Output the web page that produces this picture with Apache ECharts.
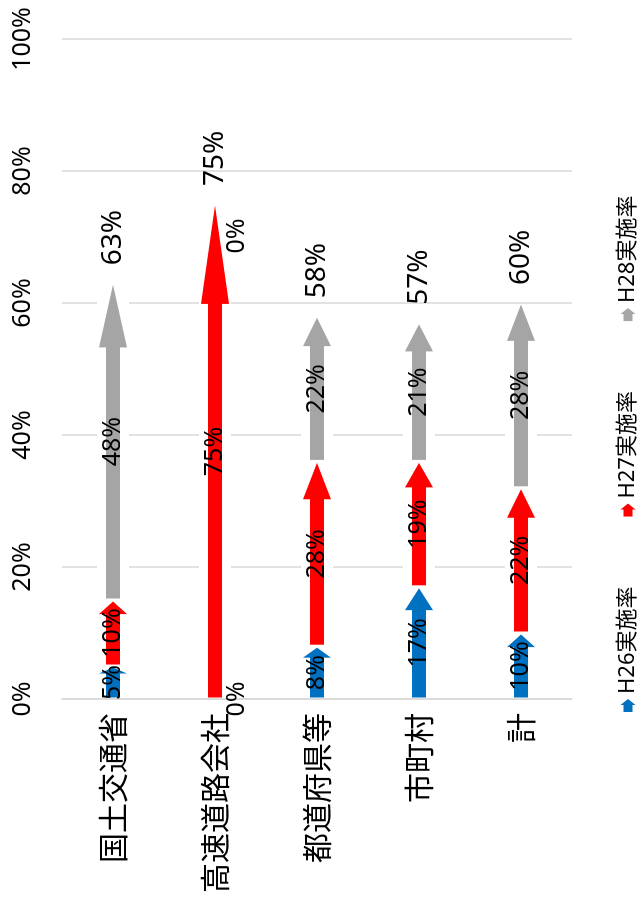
<!DOCTYPE html>
<html>
<head>
<meta charset="utf-8">
<script src="https://cdn.jsdelivr.net/npm/echarts@6/dist/echarts.min.js"></script>
<style>
  html, body { margin: 0; padding: 0; background: #fff; overflow: hidden; width: 643px; height: 901px; }
  /* The chart is laid out as horizontal bars and the box is turned a quarter-turn
     counter-clockwise, so every text runs upward and the bars point up. */
  #chart {
    position: absolute; left: 0; top: 0;
    width: 901px; height: 643px;
    transform-origin: 0 0;
    transform: translateY(901px) rotate(-90deg);
  }
</style>
</head>
<body>
<div id="chart"></div>
<script>
// Implementation rate by organisation (%), one array per fiscal year
const categories = ['国土交通省', '高速道路会社', '都道府県等', '市町村', '計'];
const h26 = [5, 0, 8, 17, 10];
const h27 = [10, 75, 28, 19, 22];
const h28 = [48, 0, 22, 21, 28];
const totals = [63, 75, 58, 57, 60];
const seriesNames = ['H26実施率', 'H27実施率', 'H28実施率'];
const valueTicks = [0, 20, 40, 60, 80, 100];

const colors = ['#0070C0', '#FF0000', '#A5A5A5'];
const FONT = '"Noto Sans", "Noto Sans CJK JP", sans-serif';
const CJK_FONT = '"Noto Sans CJK JP", "Noto Sans", sans-serif';

// Build [category, start, end, value] rows so each year's arrow sits on top of the previous ones
const years = [h26, h27, h28];
const stacked = years.map(() => []);
categories.forEach((c, i) => {
  let base = 0;
  years.forEach((arr, k) => {
    stacked[k].push([i, base, base + arr[i], arr[i]]);
    base += arr[i];
  });
});

// Draws one arrow segment (white backing, arrow body, value label)
function arrowRenderer(color) {
  return function (params, api) {
    const cat = api.value(0);
    const s = api.value(1), e = api.value(2), v = api.value(3);
    const p0 = api.coord([s, cat]);
    const p1 = api.coord([e, cat]);
    const cy = p0[1];
    const children = [];
    const labelStyle = { text: v + '%', fill: '#000', fontSize: 25, fontFamily: FONT,
                         align: 'center', verticalAlign: 'middle' };
    if (v > 0) {
      const x0 = p0[0] + 1.5;
      const x1 = Math.max(p1[0] - 1.5, x0 + 1);
      const len = x1 - x0;
      const head = len * 0.2;
      const shaft = 7, wing = 14;
      children.push({
        type: 'rect', z2: 0,
        shape: { x: x0, y: cy - 16, width: len, height: 32 },
        style: { fill: '#ffffff' }
      });
      children.push({
        type: 'polygon', z2: 1,
        shape: { points: [
          [x0, cy - shaft], [x1 - head, cy - shaft], [x1 - head, cy - wing],
          [x1, cy], [x1 - head, cy + wing], [x1 - head, cy + shaft], [x0, cy + shaft]
        ] },
        style: { fill: color }
      });
      children.push({ type: 'text', z2: 10, x: (x0 + x1) / 2, y: cy, style: labelStyle });
    } else {
      children.push({ type: 'text', z2: 10, x: p0[0] - (s > 0 ? 32 : 0), y: cy + 22, style: labelStyle });
    }
    return { type: 'group', children: children };
  };
}

// Total label just beyond the end of each stacked arrow
function totalRenderer(params, api) {
  const cat = api.value(0);
  const v = api.value(1);
  const p = api.coord([v, cat]);
  return {
    type: 'text', z2: 10,
    x: p[0] + 18, y: p[1],
    style: { text: v + '%', fill: '#000', fontSize: 28, fontFamily: FONT,
             align: 'left', verticalAlign: 'middle' }
  };
}

const series = seriesNames.map((name, k) => ({
  name: name,
  type: 'custom',
  renderItem: arrowRenderer(colors[k]),
  itemStyle: { color: colors[k] },
  encode: { x: [1, 2], y: 0 },
  data: stacked[k]
}));
series.push({
  name: 'total',
  type: 'custom',
  renderItem: totalRenderer,
  encode: { x: 1, y: 0 },
  data: totals.map((t, i) => [i, t])
});

const chart = echarts.init(document.getElementById('chart'), null, { renderer: 'canvas' });
chart.setOption({
  animation: false,
  backgroundColor: '#ffffff',
  textStyle: { fontFamily: FONT },
  grid: { left: 202, right: 39, top: 62, bottom: 71, containLabel: false },
  legend: {
    data: seriesNames.map(n => ({
      name: n,
      icon: 'path://M0,3 L7,3 L7,0 L13,7.5 L7,15 L7,12 L0,12 Z'
    })),
    left: 189, top: 617,
    padding: 0,
    itemWidth: 13, itemHeight: 15, itemGap: 70,
    textStyle: { fontSize: 22, color: '#000', fontFamily: FONT }
  },
  xAxis: {
    type: 'value',
    position: 'top',
    min: valueTicks[0],
    max: valueTicks[valueTicks.length - 1],
    interval: valueTicks[1] - valueTicks[0],
    axisLine: { show: false },
    axisTick: { show: false },
    splitLine: { lineStyle: { color: '#d9d9d9', width: 1.5 } },
    axisLabel: { formatter: '{value}%', fontSize: 25, color: '#000', margin: 27, fontFamily: FONT }
  },
  yAxis: {
    type: 'category',
    inverse: true,
    data: categories,
    axisLine: { show: true, lineStyle: { color: '#d9d9d9', width: 1.5 } },
    axisTick: { show: false },
    axisLabel: { fontSize: 30, color: '#000', margin: 14, fontFamily: CJK_FONT }
  },
  series: series
});
</script>
</body>
</html>
